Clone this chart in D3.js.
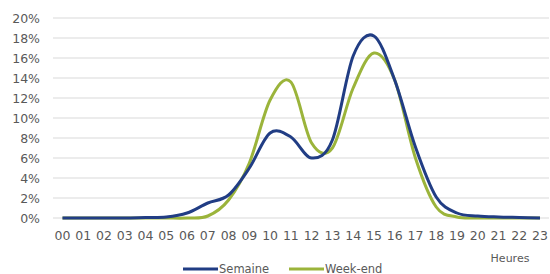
<!DOCTYPE html>
<html>
<head>
<meta charset="utf-8">
<script src="https://cdn.jsdelivr.net/npm/d3@7"></script>
<style>
  body { margin: 0; background: #fff; }
  svg text { font-family: "DejaVu Sans", sans-serif; fill: #595959; }
</style>
</head>
<body>
<div id="chart"></div>
<script>
// hours on the x axis
var hours = ["00","01","02","03","04","05","06","07","08","09","10","11",
  "12","13","14","15","16","17","18","19","20","21","22","23"];
// share of the day, in %
var semaine = [0,0,0,0,0.05,0.1,0.5,1.5,2.3,5,8.5,8.1,6,7.8,16.2,18.2,13.8,7.1,2.1,0.5,0.2,0.1,0.05,0];
var weekend = [0,0,0,0,0,0,0,0.2,1.8,5.5,11.8,13.6,7.5,7,13,16.5,13.8,6,1.1,0.1,0,0,0,0];
var yTicks = [0,2,4,6,8,10,12,14,16,18,20];
var seriesNames = ["Semaine", "Week-end"];

var w = 550, h = 274;
var svg = d3.select("#chart").append("svg").attr("width", w).attr("height", h);

var x = d3.scalePoint().domain(hours).range([62.5, 540]);
var y = d3.scaleLinear().domain([0, 20]).range([218, 18]);

// gridlines
svg.append("g")
  .selectAll("line")
  .data(yTicks)
  .enter()
  .append("line")
  .attr("x1", 53)
  .attr("x2", 549)
  .attr("y1", function(d) { return y(d); })
  .attr("y2", function(d) { return y(d); })
  .attr("stroke", "#d9d9d9")
  .attr("stroke-width", 1);

// y labels
svg.append("g")
  .selectAll("text")
  .data(yTicks)
  .enter()
  .append("text")
  .attr("x", 40)
  .attr("y", function(d) { return y(d) + 4.5; })
  .attr("text-anchor", "end")
  .style("font-size", "12.5px")
  .text(function(d) { return d + "%"; });

// x labels
svg.append("g")
  .selectAll("text")
  .data(hours)
  .enter()
  .append("text")
  .attr("x", function(d) { return x(d); })
  .attr("y", 240)
  .attr("text-anchor", "middle")
  .style("font-size", "12.5px")
  .text(function(d) { return d; });

svg.append("text")
  .attr("x", 510)
  .attr("y", 262)
  .attr("text-anchor", "middle")
  .style("font-size", "11px")
  .text("Heures");

var line = d3.line()
  .x(function(d, i) { return x(hours[i]); })
  .y(function(d) { return y(d); })
  .curve(d3.curveCardinal.tension(0));

var colors = ["#213d84", "#9bb43b"];

svg.append("path")
  .datum(weekend)
  .attr("d", line)
  .attr("fill", "none")
  .attr("stroke", colors[1])
  .attr("stroke-width", 3);

svg.append("path")
  .datum(semaine)
  .attr("d", line)
  .attr("fill", "none")
  .attr("stroke", colors[0])
  .attr("stroke-width", 3);

// legend
var legendX = [183, 289];
seriesNames.forEach(function(name, i) {
  svg.append("line")
    .attr("x1", legendX[i])
    .attr("x2", legendX[i] + 35)
    .attr("y1", 269)
    .attr("y2", 269)
    .attr("stroke", colors[i])
    .attr("stroke-width", 3);
  svg.append("text")
    .attr("x", legendX[i] + 36)
    .attr("y", 272.5)
    .style("font-size", "11.5px")
    .text(name);
});
</script>
</body>
</html>
